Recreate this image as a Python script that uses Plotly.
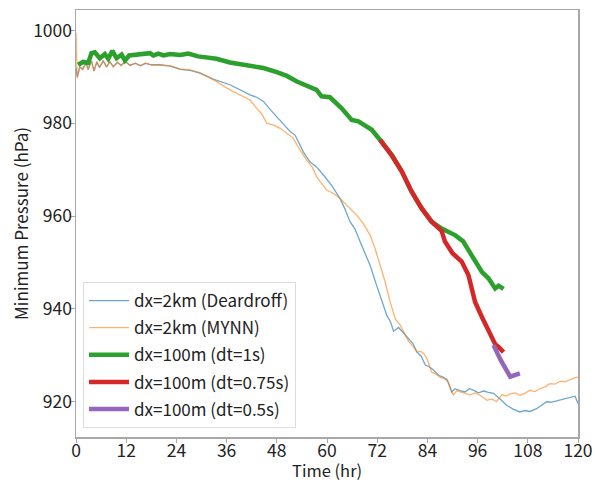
import plotly.graph_objects as go

# ---- data ----
t_dear = [0, 0.3, 0.9, 1.6, 2.4, 2.9, 3.7, 4.3, 5, 5.6, 6.5, 7.3, 8.1, 8.9, 9.9, 10.8, 11.8, 12.9,
          14.2, 15.4, 16.6, 18, 20, 22.5, 24.9, 27.3, 29.6, 32.8, 36.8, 39, 41.6, 43.2, 44.8, 46.4,
          48, 49.6, 51.2, 52.4, 54.3, 55.9, 57.5, 59.1, 61.1, 63.1, 64.3, 65.5, 66.7, 67.9, 69.1,
          70.3, 71.7, 73.1, 74.3, 75.2, 75.9, 77.1, 78.3, 79.5, 80.5, 81.5, 82.5, 83.5, 84.3, 85.1,
          86.7, 87.7, 88.7, 89.8, 90.6, 91.8, 93, 94, 95, 96.2, 97.4, 98.6, 99.8, 101.5, 103, 104.5,
          106.1, 107.3, 108.5, 110.1, 111.3, 112.5, 113.7, 114.9, 116.5, 118.1, 119.3, 120]
p_dear = [992.0, 990.0, 992.2, 991.7, 993.0, 991.6, 993.4, 991.3, 993.2, 992.0, 993.4, 992.2, 993.2,
          992.2, 993.1, 992.5, 993.3, 992.5, 992.9, 992.4, 992.9, 992.6, 992.6, 992.3, 991.6, 991.4,
          990.8, 989.5, 988.3, 987.3, 986.1, 985.6, 984.7, 983.0, 981.4, 979.9, 978.2, 977.4, 973.9,
          971.7, 970.6, 968.9, 966.6, 963.8, 961.5, 958.8, 957.2, 954.5, 951.8, 949.4, 945.5, 941.5,
          938.6, 937.2, 935.2, 936.0, 934.8, 933.6, 932.6, 930.7, 929.8, 927.9, 927.6, 927.1, 925.7,
          925.3, 924.8, 922.1, 922.8, 922.4, 922.1, 922.8, 922.5, 921.9, 922.3, 922.0, 921.8, 920.5,
          919.2, 918.4, 917.8, 918.1, 917.9, 918.5, 919.3, 920.0, 919.9, 920.2, 920.5, 921.0, 921.2, 919.6]

t_mynn = [0, 0.3, 0.9, 1.6, 2.4, 2.9, 3.7, 4.3, 5, 5.6, 6.5, 7.3, 8.1, 8.9, 9.9, 10.8, 11.8, 12.9,
          14.2, 15.4, 16.6, 18, 20, 22.5, 24.9, 27.3, 29.6, 32.8, 36.8, 40, 41.6, 43.2, 44.4, 45.6,
          47.2, 48.8, 50.4, 51.9, 53.5, 55.1, 56.5, 57.5, 59.9, 61.5, 63.1, 65.1, 67.1, 68.7, 70.3,
          71.5, 72.7, 73.9, 75.1, 76.3, 77.5, 78.5, 79.5, 80.5, 81.5, 82.3, 83.1, 83.9, 85, 86,
          87, 88, 89, 90.2, 91.0, 91.8, 93, 94.2, 95.4, 96.6, 98.2, 99.4, 100.5, 101.8, 102.8,
          103.8, 105, 106.1, 107.3, 108.5, 109.7, 110.9, 112.1, 113.3, 114.5, 115.7, 116.9, 118.1,
          119.3, 120]
p_mynn = [999.5, 989.7, 992.0, 991.5, 993.0, 991.5, 993.5, 991.2, 993.3, 992.0, 993.5, 992.1, 993.3,
          992.1, 993.2, 992.4, 993.4, 992.4, 993.0, 992.4, 993.0, 992.6, 992.5, 992.4, 991.7, 991.5,
          990.9, 989.4, 987.2, 985.8, 985.0, 983.2, 982.0, 980.0, 979.6, 978.9, 977.9, 976.8, 974.3,
          972.1, 970.5, 968.5, 965.6, 964.9, 963.8, 962.1, 960.2, 958.3, 955.9, 953.0, 949.4, 945.8,
          941.5, 937.9, 936.5, 934.8, 933.0, 932.0, 930.7, 930.9, 930.4, 929.3, 926.4, 926.0, 925.3,
          925.0, 924.2, 921.4, 922.4, 922.1, 921.8, 921.5, 921.9, 921.4, 920.3, 920.6, 920.0, 921.5,
          921.2, 921.7, 921.9, 921.4, 921.8, 922.5, 922.2, 922.8, 923.2, 923.9, 923.8, 924.4, 924.3,
          924.8, 925.2, 925.3]

t_dt1 = [0.5, 1.7, 2.9, 3.7, 4.5, 5.7, 6.9, 7.7, 8.7, 9.7, 10.9, 11.7, 12.7, 14.5, 16, 17.7, 18.5,
         19.7, 20.9, 22.5, 24.9, 26.8, 29.2, 33.6, 36.8, 41.6, 44.8, 48, 50.4, 52.8, 54.7, 57.5,
         58.7, 60.7, 63.5, 65.9, 67.5, 69.1, 70.7, 72.7, 75.5, 77.9, 80.2, 82.6, 85, 87.4, 89,
         90.6, 92.5, 94.6, 97, 98.6, 100.2, 101, 102.2]
p_dt1 = [992.6, 993.2, 993.0, 995.1, 995.3, 994.0, 994.9, 993.9, 995.6, 994.0, 994.8, 993.5, 994.6,
         994.8, 995.0, 995.1, 994.6, 995.0, 994.6, 994.9, 994.7, 995.0, 994.4, 993.9, 993.1, 992.5,
         991.9, 991.0, 990.2, 989.0, 988.3, 987.2, 985.8, 985.6, 983.2, 980.7, 980.4, 979.6, 978.6,
         976.4, 973.2, 969.6, 965.3, 961.7, 958.8, 957.3, 956.5, 955.9, 954.6, 951.6, 948.0, 946.6,
         944.4, 945.0, 944.3]

t_dt075 = [72.7, 75.5, 77.9, 80.2, 82.6, 85, 87.4, 88.2, 90, 92.2, 93.8, 95.4, 97, 98.6, 100.2,
           101, 102.2]
p_dt075 = [976.4, 973.0, 969.6, 965.3, 961.7, 958.8, 956.8, 954.5, 952.0, 950.2, 947.3, 941.5,
           938.3, 935.1, 932.4, 931.8, 930.7]

t_dt05 = [99.8, 101.5, 103.8, 104.8, 106.1]
p_dt05 = [932.2, 929.0, 925.4, 925.7, 926.1]

x_ticks = [0, 12, 24, 36, 48, 60, 72, 84, 96, 108, 120]
y_ticks = [920, 940, 960, 980, 1000]

FONT = "Noto Sans CJK JP"

fig = go.Figure()
series = [
    ("dx=2km (Deardroff)", t_dear, p_dear, "rgba(31,119,180,0.65)", 1.3),
    ("dx=2km (MYNN)", t_mynn, p_mynn, "rgba(255,127,14,0.6)", 1.3),
    ("dx=100m (dt=1s)", t_dt1, p_dt1, "#2ca02c", 4.5),
    ("dx=100m (dt=0.75s)", t_dt075, p_dt075, "#d62728", 4.5),
    ("dx=100m (dt=0.5s)", t_dt05, p_dt05, "#9467bd", 4.5),
]
for i, (name, t, p, col, w) in enumerate(series):
    fig.add_trace(go.Scatter(x=t, y=p, mode="lines", name=name, legendgroup=str(i),
                             line=dict(color=col, width=w)))

axis_common = dict(showline=True, linecolor="#a8a8a8", linewidth=1.5, mirror=True,
                   ticks="outside", ticklen=4, tickcolor="#a8a8a8", showgrid=False,
                   zeroline=False, automargin=False,
                   tickfont=dict(family=FONT, size=17.5, color="#222"))

fig.update_layout(
    width=595, height=480,
    margin=dict(l=76, r=17, t=10, b=43),
    plot_bgcolor="white", paper_bgcolor="white",
    font=dict(family=FONT, color="#222"),
    showlegend=True,
    legend=dict(x=0.014, y=0.021, xanchor="left", yanchor="bottom", itemwidth=40,
                bgcolor="rgba(255,255,255,0.85)", bordercolor="#dcdcdc", borderwidth=1,
                font=dict(family=FONT, size=17, color="#222"), tracegroupgap=2),
    xaxis=dict(range=[0, 120], tickvals=x_ticks, ticklabelstandoff=-7, **axis_common),
    yaxis=dict(range=[912.4, 1004.4], tickvals=y_ticks, ticklabelstandoff=-5,
               title=dict(text="Minimum Pressure (hPa)", font=dict(family=FONT, size=17), standoff=0),
               **axis_common),
    annotations=[dict(text="Time (hr)", xref="paper", yref="paper", x=0.5, y=-0.078,
                      xanchor="center", yanchor="middle", showarrow=False,
                      font=dict(family=FONT, size=16.5, color="#222"))],
)

fig.write_html("out.html", config={"displayModeBar": False, "staticPlot": True},
               post_script="document.body.style.margin='0';document.body.style.overflow='hidden';")
